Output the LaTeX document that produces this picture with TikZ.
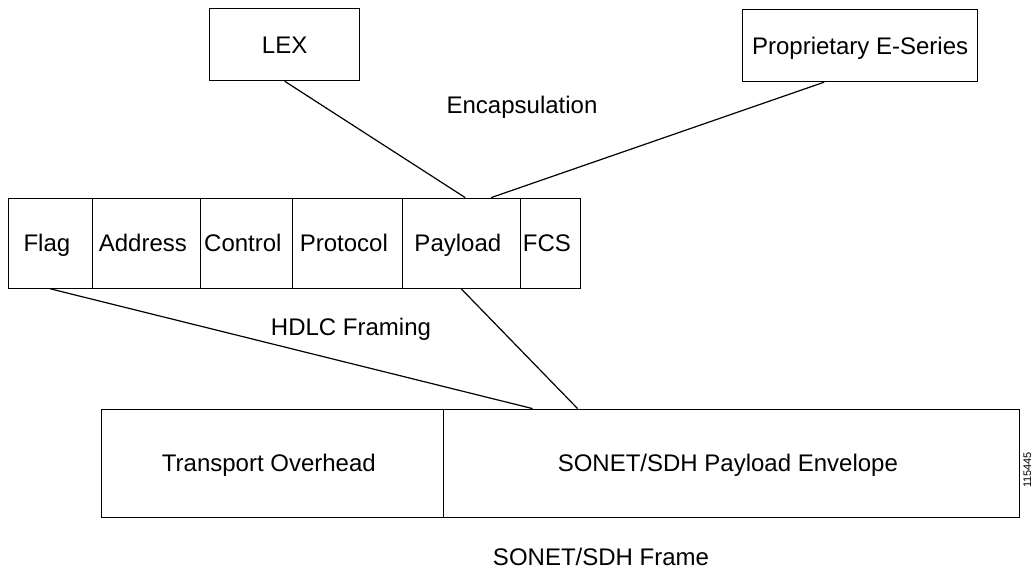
\documentclass[tikz,border=0pt]{standalone}
\usepackage{fontspec}
\setmainfont{Liberation Sans}
\usepackage{tikz}
\usetikzlibrary{matrix, calc, positioning}
\tikzset{
fieldrow/.style={
  matrix of nodes,
  row sep=-\pgflinewidth,
  column sep=-\pgflinewidth,
  inner sep=0pt,
  nodes={draw, rectangle, inner sep=0pt, align=center},
  text height=17pt,
  text depth=0pt,
  nodes in empty cells
},
plainbox/.style={draw, rectangle, inner sep=0pt, text height=17pt, text depth=0pt, anchor=north west},
caption/.style={inner sep=0pt, text height=17pt, text depth=0pt},
}

\begin{document}
\begin{tikzpicture}[x=1pt, y=-1pt, line width=1.2pt, font=\fontsize{24}{28}\selectfont]
        \useasboundingbox (0,0) rectangle (1034,569);
        \node (lex) [plainbox, minimum width=150pt, minimum height=72pt] at (209,8) {LEX};
        \node (prop) [plainbox, minimum width=235pt, minimum height=72pt] at (742,9) {Proprietary E-Series};
        \matrix (hdlc) [fieldrow, anchor=north west,
                nodes={minimum height=90pt},
                column 1/.style={nodes={minimum width=84pt}},
                column 2/.style={nodes={minimum width=108pt}},
                column 3/.style={nodes={minimum width=92pt}},
                column 4/.style={nodes={minimum width=110pt}},
                column 5/.style={nodes={minimum width=118pt}},
                column 6/.style={nodes={minimum width=60pt}}] at (7,197) {
          Flag & Address & Control & Protocol & Payload & FCS \\
        };
        \matrix (sonet) [fieldrow, anchor=north west,
                nodes={minimum height=108pt},
                column 1/.style={nodes={minimum width=342pt}},
                column 2/.style={nodes={minimum width=576pt}}] at (100,408) {
          Transport Overhead & SONET/SDH Payload Envelope \\
        };
        % captions
        \node (encap) [caption] at (522,105) {Encapsulation};
        \node (framing) [caption] at (351,327) {HDLC Framing};
        \node (frame) [caption] at (601,557) {SONET/SDH Frame};
        \node (figno) [caption, rotate=90, font=\fontsize{11}{13}\selectfont, text height=8pt] at (1027,470) {115445};
        % connectors
        \draw (lex.south) -- ([xshift=4pt]hdlc-1-5.north);
        \draw ([xshift=-36pt]prop.south) -- ([xshift=30pt]hdlc-1-5.north);
        \draw (hdlc-1-1.south) -- ([xshift=90pt]sonet-1-2.north west);
        \draw (hdlc-1-5.south) -- ([xshift=135pt]sonet-1-2.north west);
\end{tikzpicture}
\end{document}
